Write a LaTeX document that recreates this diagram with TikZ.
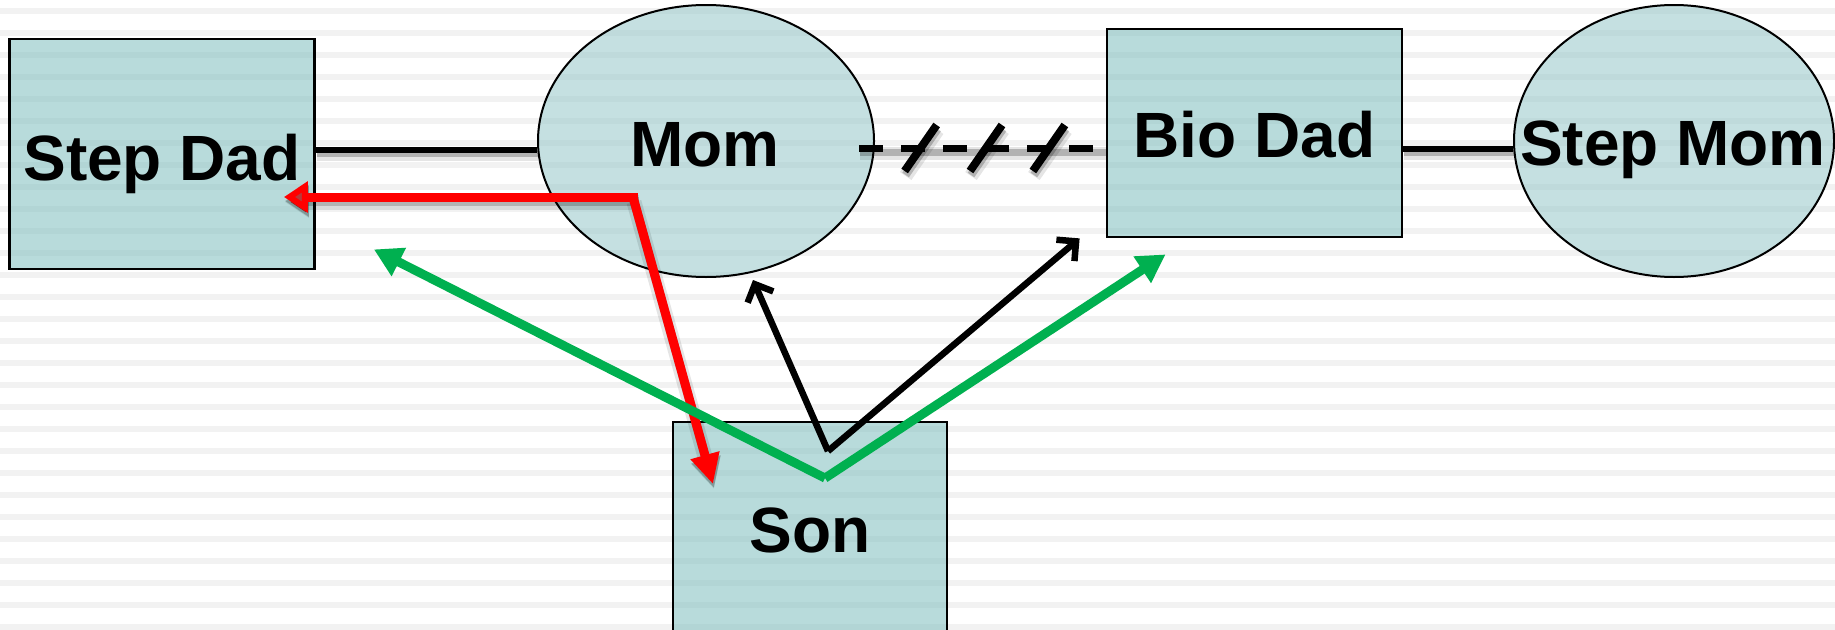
\documentclass[tikz,border=0pt]{standalone}
\usepackage{fontspec}
\setmainfont{Liberation Sans}
\usetikzlibrary{arrows.meta,shapes.geometric,calc}
\definecolor{stripe}{HTML}{F2F2F2}
\definecolor{boxfill}{RGB}{115,185,185}
\definecolor{ellfill}{RGB}{141,195,197}
\definecolor{darkred}{RGB}{184,58,58}
\definecolor{grn}{RGB}{0,176,80}
\begin{document}
\begin{tikzpicture}[x=1pt,y=-1pt,
  boxnode/.style={draw=black,line width=2.8pt,fill=boxfill,fill opacity=0.5,rectangle,inner sep=0pt},
  ellnode/.style={draw=black,line width=2pt,fill=ellfill,fill opacity=0.5,ellipse,inner sep=0pt},
  lbl/.style={font=\bfseries\fontsize{64}{76}\selectfont,inner sep=0pt,anchor=base},
  shad/.style={preaction={draw=black,draw opacity=0.10,line width=#1+6pt,transform canvas={shift={(1pt,-5pt)}}},
               preaction={draw=black,draw opacity=0.22,line width=#1,transform canvas={shift={(1pt,-4pt)}}}},
  conn/.style={line width=6pt,shad=6pt},
  brk/.style={line width=7pt,dash pattern=on 24pt off 18pt,shad=7pt},
  slash/.style={line width=8pt,shad=8pt},
  redarr/.style={line width=9pt,draw=red,shad=9pt},
  grnarr/.style={line width=9pt,draw=grn,-{Triangle[length=28pt,width=30pt]}},
  blkarr/.style={line width=6.5pt,draw=black,-{Straight Barb[length=14pt,width=28pt,line width=6.5pt]}}
]
\useasboundingbox (0,0) rectangle (1835,629);
\fill[white] (0,0) rectangle (1835,629);
\foreach \k in {0,...,28}{
  \fill[stripe] (0,8+22*\k) rectangle (1835,14+22*\k);
}
% shapes
\node[boxnode,minimum width=305pt,minimum height=230pt] (stepdad) at (162,154) {};
\node[ellnode,minimum width=336pt,minimum height=272pt] (mom) at (706,141) {};
\node[boxnode,minimum width=295pt,minimum height=208pt] (biodad) at (1254.5,133) {};
\node[ellnode,minimum width=320pt,minimum height=272pt] (stepmom) at (1674,141) {};
\node[boxnode,line width=1.8pt,minimum width=274pt,minimum height=238pt] (son) at (810,541) {};
% labels
\node[lbl] (stepdadt) at ($(stepdad.center)+(0,26)$) {Step Dad};
\node[lbl] (momt) at ($(mom.center)+(-1,25)$) {Mom};
\node[lbl] (biodadt) at ($(biodad.center)+(0,24)$) {Bio Dad};
\node[lbl] (stepmomt) at ($(stepmom.center)+(-1,24)$) {Step Mom};
\node[lbl] (sont) at ($(son.center)+(0,11)$) {Son};
% couple lines
\coordinate (c1) at ($(stepdad.east)+(0,-4)$);
\draw[conn] (c1) -- (c1 -| mom.west);
\coordinate (c2) at ($(biodad.east)+(0,16)$);
\draw[conn] (c2) -- (c2 -| stepmom.west);
% broken relationship
\coordinate (d1) at ($(mom.east)+(-16,7)$);
\coordinate (d2) at ($(biodad.west)+(0,15)$);
\draw[brk] (d1) -- (d2);
\coordinate (s1) at ($(d1)!0.25!(d2)$);
\coordinate (s2) at ($(d1)!0.515!(d2)$);
\coordinate (s3) at ($(d1)!0.77!(d2)$);
\foreach \s in {s1,s2,s3}{
  \draw[slash] ($(\s)+(16,-23)$) -- ($(\s)+(-16,23)$);
}
% red arrows
\coordinate (rc) at ($(mom.center)+(-73,56)$);
\coordinate (redL) at ($(stepdad.east)+(-32,43)$);
\coordinate (redD) at ($(son.north)+(-97,63)$);
\draw[redarr,-{Triangle[length=24pt,width=30pt,fill=darkred]}] ($(rc)+(4.5,0)$) -- (redL);
\draw[redarr,-{Triangle[length=30pt,width=28pt]}] (rc) -- (redD);
% green arrows
\coordinate (g0) at ($(son.north)+(15,57)$);
\draw[grnarr] (g0) -- ($(stepdad.south east)+(58,-21)$);
\draw[grnarr] (g0) -- ($(biodad.south west)+(60,16)$);
% black arrows
\coordinate (b0) at ($(son.north)+(18,30)$);
\draw[blkarr] (b0) -- ($(mom.south)+(47,2)$);
\draw[blkarr] (b0) -- ($(biodad.south west)+(-26,0)$);
\end{tikzpicture}
\end{document}
